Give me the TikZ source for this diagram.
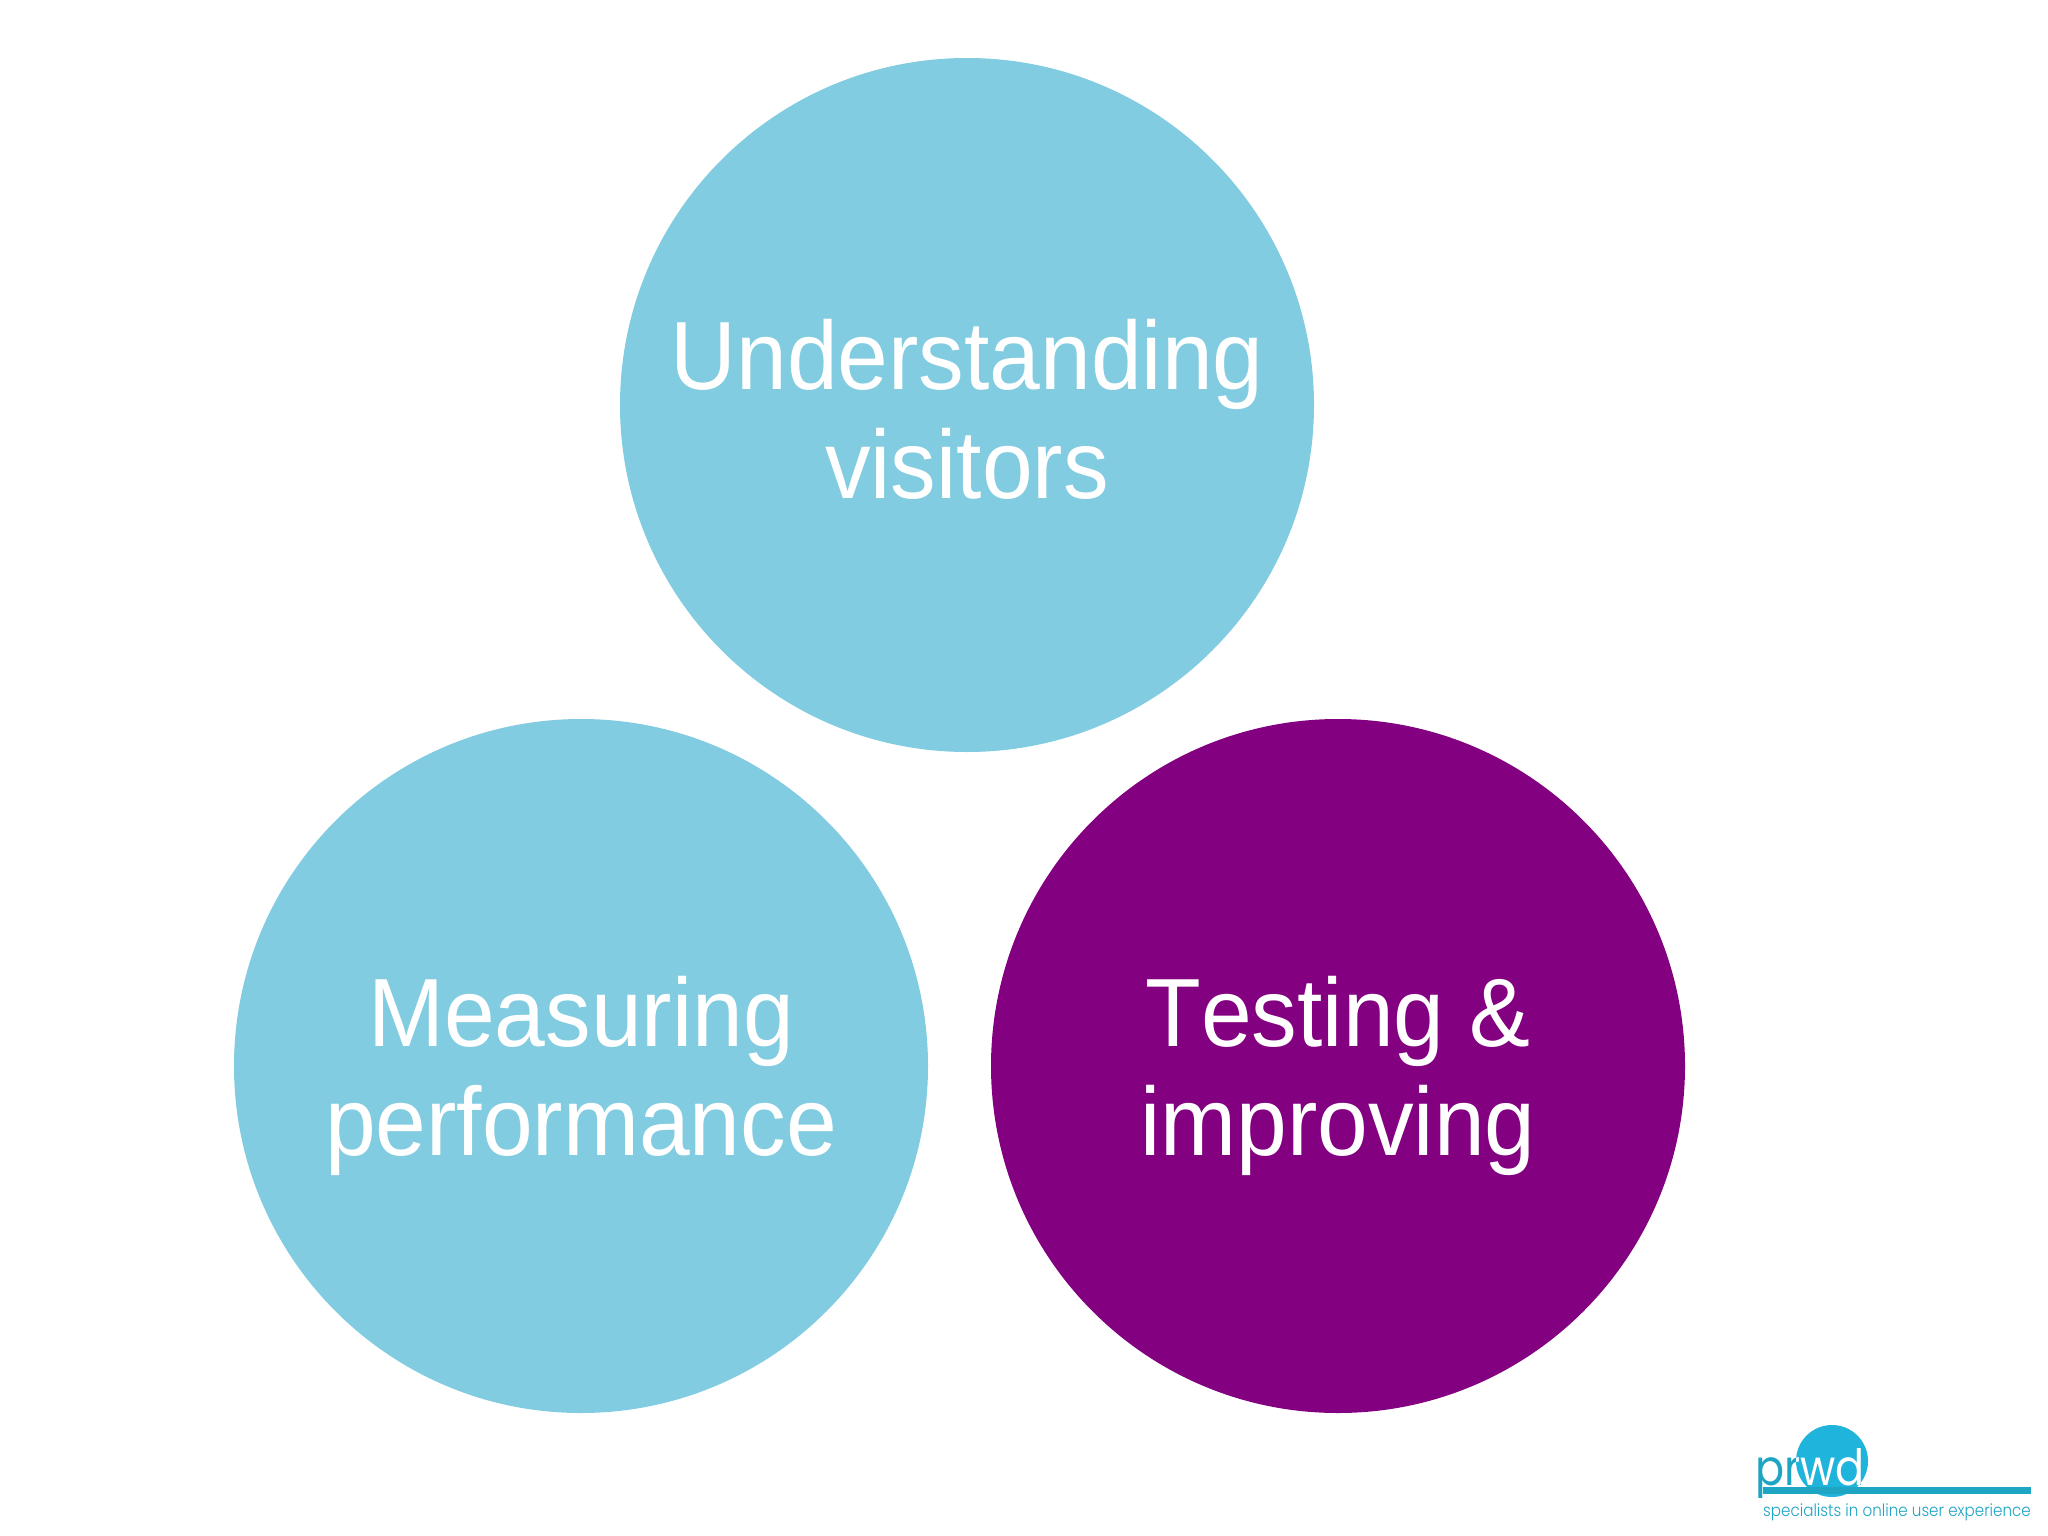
\documentclass[tikz,border=0pt]{standalone}
\usepackage{fontspec}
\setmainfont[FakeStretch=0.94,Kerning=Off]{Liberation Sans}
\newfontfamily\logofont[FakeStretch=0.86]{Poppins}
\newfontfamily\tagfont[UprightFont=* Light,FakeStretch=0.89]{Poppins}
\definecolor{lightblue}{HTML}{81CCE0}
\definecolor{deeppurple}{HTML}{830080}
\definecolor{logoteal}{HTML}{1FA5C4}
\definecolor{logocircle}{HTML}{1EB4DC}
\newcommand{\topfix}{\rule{0pt}{90pt}}
\newcommand{\botfix}{\rule[-12pt]{0pt}{12pt}}
\tikzset{
  x=1pt,y=-1pt,
  disc/.style={circle,minimum size=694pt,inner sep=0pt,outer sep=0pt,align=center,text=white,
    font=\fontsize{97}{109.5}\selectfont},
}
\begin{document}
\begin{tikzpicture}
\useasboundingbox (0,0) rectangle (2048,1536);
\fill[white] (0,0) rectangle (2048,1536);
\node[disc,fill=lightblue] (understanding) at (967,405) {\topfix Understanding\\visitors\botfix};
\node[disc,fill=lightblue] (measuring) at (581,1066) {\topfix Measuring\\performance\botfix};
\node[disc,fill=deeppurple] (testing) at (1338,1066) {\topfix Testing \&\\improving\botfix};
% logo
\node[circle,fill=logocircle,minimum size=72pt,inner sep=0pt] (logocirc) at (1832,1461) {};
\fill[logoteal] (1763,1487) rectangle (2031,1494);
\node[anchor=base west,inner sep=0pt,text=logoteal,font=\logofont\fontsize{50}{50}\selectfont] (logoname) at (1755,1485) {prwd};
\begin{scope}
\clip (1832,1461) circle (36);
\node[anchor=base west,inner sep=0pt,text=white,font=\logofont\fontsize{50}{50}\selectfont] (logonameb) at (1755,1485) {prwd};
\end{scope}
\node[anchor=base west,inner sep=0pt,text=logoteal,font=\tagfont\fontsize{17}{17}\selectfont] (tagline) at (1763,1516) {specialists in online user experience};
\end{tikzpicture}
\end{document}
